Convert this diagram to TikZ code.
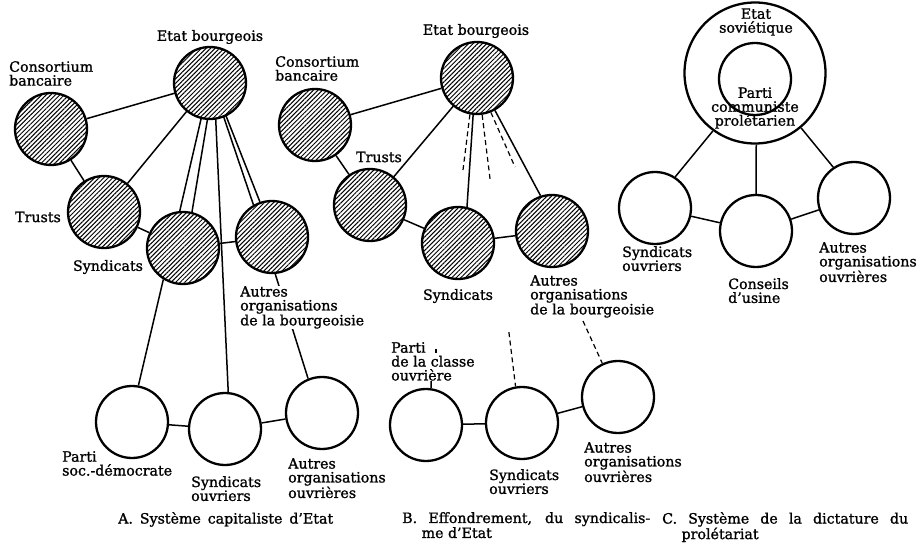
\documentclass[tikz,border=0pt]{standalone}
\usepackage{fontspec}
\setmainfont[FakeBold=1.2]{DejaVu Serif}
\usetikzlibrary{patterns.meta,calc}
\begin{document}
\begin{tikzpicture}[x=1pt,y=-1pt,
  org/.style={circle,draw,line width=2.3pt,minimum size=72pt,inner sep=0pt},
  hatched/.style={org,pattern={Lines[angle=45,distance=3.2pt,line width=1pt]}},
  link/.style={line width=1.5pt},
  dlink/.style={line width=1.2pt,dash pattern=on 5pt off 3.5pt},
  lbl/.style={font=\fontsize{14.2}{13.9}\selectfont,inner sep=0pt,align=left},
  cover/.style={fill=white}]
\useasboundingbox (0,0) rectangle (918,553);
% ---------------- Panel A ----------------
\node[hatched] (aEB) at (210,83) {};
\node[hatched] (aCB) at (51,129) {};
\node[hatched] (aTR) at (104,212) {};
\node[hatched] (aSY) at (183,248) {};
\node[hatched] (aAOB) at (272,237) {};
\node[org] (aPA) at (132,422) {};
\node[org] (aSO) at (225,429) {};
\node[org] (aAOO) at (322,413) {};
\draw[link] (aCB) -- (aEB);
\draw[link] (aCB) -- (aTR);
\draw[link] (aTR) -- (aEB);
\draw[link] (aTR) -- (aSY);
\draw[link] (aSY) -- (aAOB);
\draw[link] (aEB.256) -- (aSY.95);
\draw[link] (aEB.266) -- (aSY.76);
\draw[link] (aEB.279) -- (aSO.85);
\draw[link] (aEB.292) -- (aAOB.120);
\draw[link] (aEB.296) -- (aAOB.109);
\draw[link] (aSY.238) -- (aPA.80);
\draw[link] (aPA) -- (aSO);
\draw[link] (aSO) -- (aAOO);
\draw[link] (aAOB.275) -- (aAOO.112);
\node[lbl] (aEBl) at (210,37) {Etat bourgeois};
\node[lbl,anchor=north west] (aCBl) at (9,61) {Consortium\\bancaire};
\node[lbl] (aTRl) at (38,217) {Trusts};
\node[lbl] (aSYl) at (108,267) {Syndicats};
\node[lbl,anchor=north west,cover] (aAOBl) at (240,286) {Autres\\organisations\\de la bourgeoisie};
\node[lbl,anchor=north west] (aPAl) at (62,451) {Parti\\soc.-démocrate};
\node[lbl,anchor=north west] (aSOl) at (191,476) {Syndicats\\ouvriers};
\node[lbl,anchor=north west] (aAOOl) at (288,458) {Autres\\organisations\\ouvrières};
\node[lbl,anchor=north west] (capA) at (118,512) {\makebox[215pt][s]{A.~Système capitaliste d'Etat}};
% ---------------- Panel B ----------------
\node[hatched] (bEB) at (477,78) {};
\node[hatched] (bCB) at (315,125) {};
\node[hatched] (bTR) at (370,205) {};
\node[hatched] (bSY) at (458,243) {};
\node[hatched] (bAOB) at (552,231) {};
\node[org] (bPA) at (426,425) {};
\node[org] (bSO) at (522,423) {};
\node[org] (bAOO) at (618,397) {};
\draw[link] (bCB) -- (bEB);
\draw[link] (bCB) -- (bTR);
\draw[link] (bTR) -- (bEB);
\draw[link] (bTR) -- (bSY);
\draw[link] (bSY) -- (bAOB);
\draw[link] (bEB.264) -- (bSY.76);
\coordinate (bE1) at (463,170);
\draw[dlink] (bEB.259) -- (bE1);
\draw[dlink] (bEB.278) -- ($(bEB.278)!0.24!(bSO.100)$);
\draw[dlink] ($(bEB.278)!0.8!(bSO.100)$) -- (bSO.100);
\coordinate (bE2) at (515,167);
\draw[dlink] (bEB.292) -- (bE2);
\draw[link] (bEB.299) -- (bAOB.108);
\coordinate (bAd) at (583,321);
\draw[dlink] (bAd) -- (bAOO.115);
\coordinate (bPs) at (431,381);
\draw[link] (bPs) -- (bPA.82);
\coordinate (bPd1) at (436,349);
\coordinate (bPd2) at (436,353);
\draw[link] (bPd1) -- (bPd2);
\draw[link] (bPA) -- (bSO);
\draw[link] (bSO) -- (bAOO);
\node[lbl] (bEBl) at (476,31) {Etat bourgeois};
\node[lbl,anchor=north west] (bCBl) at (275,56) {Consortium\\bancaire};
\node[lbl] (bTRl) at (379,157) {Trusts};
\node[lbl] (bSYl) at (458,296) {Syndicats};
\node[lbl,anchor=north west] (bAOBl) at (530,275) {Autres\\organisations\\de la bourgeoisie};
\node[lbl,anchor=north west] (bPAl) at (391,342) {Parti\\de la classe\\ouvrière};
\node[lbl,anchor=north west] (bSOl) at (489,469) {Syndicats\\ouvriers};
\node[lbl,anchor=north west] (bAOOl) at (584,442) {Autres\\organisations\\ouvrières};
\node[lbl,anchor=north west] (capB) at (402,512) {\makebox[248pt][s]{B.~Effondrement, du syndicalis-}\\\phantom{B.~}me d'Etat};
% ---------------- Panel C ----------------
\node[org,minimum size=141pt] (cES) at (755,73) {};
\node[org,minimum size=72pt] (cPC) at (755,79) {};
\node[org] (cSO) at (655,208) {};
\node[org] (cCU) at (756,231) {};
\node[org] (cAOO) at (854,198) {};
\draw[link] (cES.234) -- (cSO.57);
\draw[link] (cES.271) -- (cCU.north);
\draw[link] (cES.310) -- (cAOO.124);
\draw[link] (cSO) -- (cCU);
\draw[link] (cCU) -- (cAOO);
\node[lbl,align=center] (cESl) at (756,22) {Etat\\soviétique};
\node[lbl,align=center] (cPCl) at (755,108) {Parti\\communiste\\prolétarien};
\node[lbl,anchor=north west] (cSOl) at (622,246) {Syndicats\\ouvriers};
\node[lbl,anchor=north west] (cCUl) at (728,278) {Conseils\\d'usine};
\node[lbl,anchor=north west] (cAOOl) at (819,242) {Autres\\organisations\\ouvrières};
\node[lbl,anchor=north west] (capC) at (662,512) {\makebox[246pt][s]{C.~Système de la dictature du}\\\phantom{C.~}prolétariat};
\end{tikzpicture}
\end{document}
